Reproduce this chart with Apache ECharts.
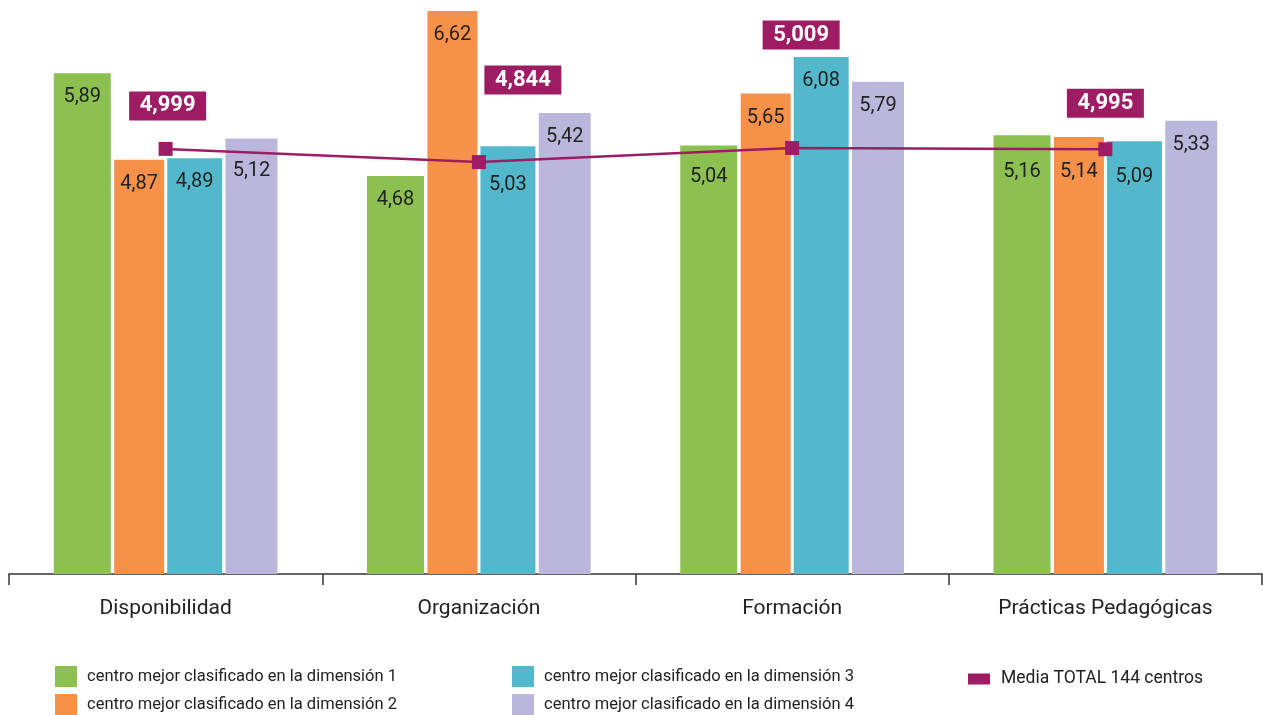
<!DOCTYPE html>
<html><head><meta charset="utf-8">
<script src="https://cdn.jsdelivr.net/npm/echarts@6/dist/echarts.min.js"></script>
<style>html,body{margin:0;padding:0;background:#fff}#c{width:1263px;height:715px}</style>
</head><body><div id="c"></div>
<script>
const categories = ['Disponibilidad', 'Organización', 'Formación', 'Prácticas Pedagógicas'];
const seriesNames = [
  'centro mejor clasificado en la dimensión 1',
  'centro mejor clasificado en la dimensión 2',
  'centro mejor clasificado en la dimensión 3',
  'centro mejor clasificado en la dimensión 4'
];
const dim1 = [5.89, 4.68, 5.04, 5.16];
const dim2 = [4.87, 6.62, 5.65, 5.14];
const dim3 = [4.89, 5.03, 6.08, 5.09];
const dim4 = [5.12, 5.42, 5.79, 5.33];
const mediaName = 'Media TOTAL 144 centros';
const media = [4.999, 4.844, 5.009, 4.995];

const FONT = "Roboto, sans-serif";
const colors = ['#8CC152', '#F79149', '#53B8CC', '#BBB7DC'];
const lineColor = '#9E1C63';
const fmt = v => String(v).replace('.', ',');

// label drop (extra distance below bar top) styling per bar
const drops = [
  [0, 0, 0, 8],
  [0, 0, 15, 0],
  [8, 0, 0, 0],
  [13, 11, 12, 0]
];
const barWidths = [57, 50, 55, 52];
const bars = [dim1, dim2, dim3, dim4].map((arr, si) => ({
  name: seriesNames[si],
  type: 'bar',
  barWidth: barWidths[si],
  barGap: '6%',
  itemStyle: { color: colors[si] },
  label: {
    show: true, position: 'insideTop', distance: 14,
    fontFamily: 'Roboto', fontSize: 20, color: '#222',
    formatter: p => fmt(p.value)
  },
  data: arr.map((v, ci) => ({ value: v, label: { distance: 14 + drops[ci][si] } }))
}));

const lineOffsets = [[2, -43], [44, -82], [9, -113], [0, -46]];
const line = {
  name: mediaName,
  type: 'line',
  color: lineColor,
  symbol: 'rect',
  symbolSize: 14,
  lineStyle: { color: lineColor, width: 2.5 },
  itemStyle: { color: lineColor },
  z: 5,
  label: {
    show: true, position: 'inside',
    backgroundColor: lineColor, color: '#fff',
    fontFamily: 'Roboto', fontWeight: 'bold', fontSize: 22,
    width: 57, align: 'center', padding: [4, 10, 3, 10],
    formatter: p => fmt(p.value)
  },
  data: media.map((v, i) => ({ value: v, label: { offset: lineOffsets[i] } }))
};

const legendBase = {
  itemWidth: 22, itemHeight: 21, icon: 'rect', padding: 0,
  textStyle: { fontFamily: FONT, fontSize: 16.5, color: '#222', padding: [0, 0, 0, 5] }
};
const mk = (name, left, top, extra) => Object.assign({}, legendBase, { left: left, top: top, data: [name] }, extra || {});

const chart = echarts.init(document.getElementById('c'), null, { renderer: 'canvas' });
chart.setOption({
  animation: false,
  grid: { left: 9, right: 1, top: 0, bottom: 141, containLabel: false },
  legend: [
    mk(seriesNames[0], 55, 666),
    mk(seriesNames[1], 55, 694),
    mk(seriesNames[2], 512, 666),
    mk(seriesNames[3], 512, 694),
    mk(mediaName, 968, 670, { itemHeight: 11, textStyle: { fontFamily: FONT, fontSize: 17.5, color: '#222', padding: [0, 0, 0, 6] } })
  ],
  xAxis: {
    type: 'category', data: categories, boundaryGap: true,
    axisLine: { lineStyle: { color: '#333', width: 1.5 } },
    axisTick: { show: true, length: 11, lineStyle: { color: '#333', width: 1.5 } },
    axisLabel: { fontFamily: FONT, fontSize: 21, color: '#222', margin: 24 }
  },
  yAxis: { type: 'value', min: 0, max: 6.75, show: false, splitLine: { show: false } },
  series: bars.concat([line])
});
</script></body></html>
